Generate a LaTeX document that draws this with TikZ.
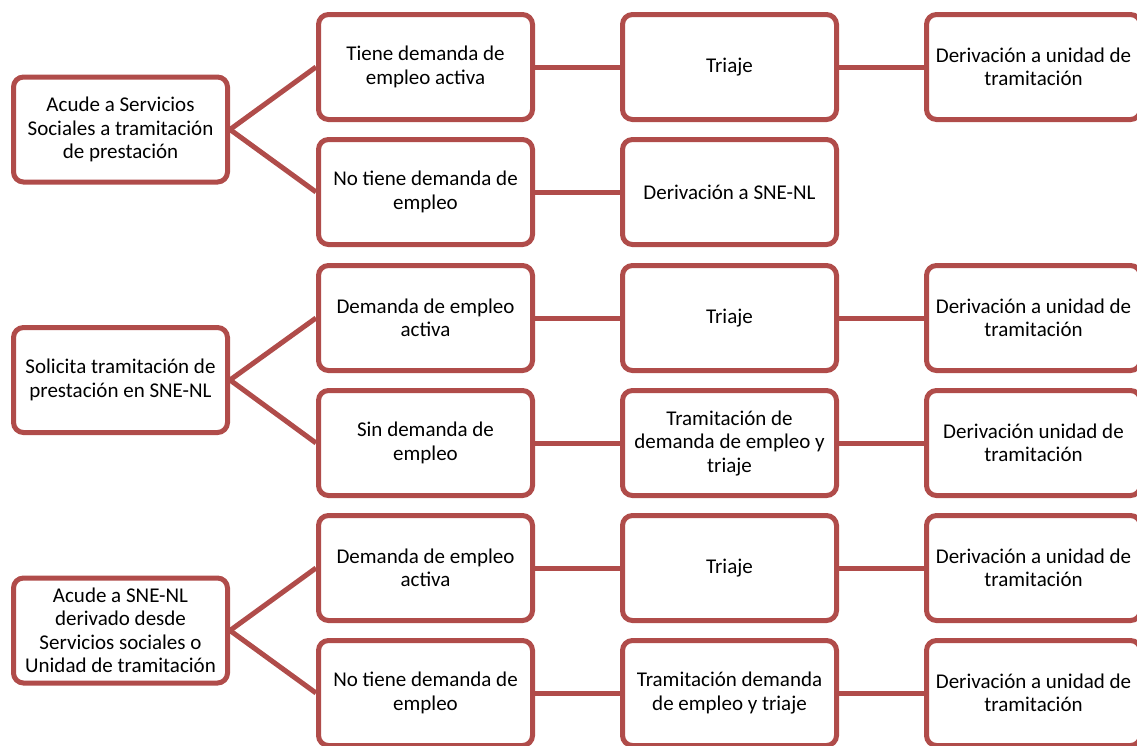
\documentclass[tikz,border=0pt]{standalone}
\usepackage{fontspec}
\setmainfont{Carlito}
\definecolor{boxred}{RGB}{176,76,74}

\begin{document}
\begin{tikzpicture}[
    x=1pt, y=-1pt,
    box/.style={draw=boxred, line width=5pt, rounded corners=10pt, fill=white,
        minimum width=214pt, minimum height=105pt, align=center, inner sep=2pt,
        font=\fontsize{21}{23.5}\selectfont},
    link/.style={draw=boxred, line width=5pt}
]
    \clip (0,0) rectangle (1137,745);
    \useasboundingbox (0,0) rectangle (1137,745);

    % Origins
    \node[box] (acude) at (120.5,129.5) {Acude a Servicios\\Sociales a tramitación\\de prestación};
    \node[box] (solicita) at (120.5,380) {Solicita tramitación de\\prestación en SNE-NL};
    \node[box] (derivado) at (120.5,630.5) {Acude a SNE-NL\\derivado desde\\Servicios sociales o\\Unidad de tramitación};

    % Demand situation
    \node[box] (tieneA) at (425.5,67) {Tiene demanda de\\empleo activa};
    \node[box] (notieneA) at (425.5,192) {No tiene demanda de\\empleo};
    \node[box] (activaB) at (425.5,318) {Demanda de empleo\\activa};
    \node[box] (sinB) at (425.5,443) {Sin demanda de\\empleo};
    \node[box] (activaC) at (425.5,568) {Demanda de empleo\\activa};
    \node[box] (notieneC) at (425.5,693) {No tiene demanda de\\empleo};

    % Actions
    \node[box] (triajeA) at (729.5,67) {Triaje};
    \node[box] (sneA) at (729.5,192) {Derivación a SNE-NL};
    \node[box] (triajeB) at (729.5,318) {Triaje};
    \node[box] (tramB) at (729.5,443) {Tramitación de\\demanda de empleo y\\triaje};
    \node[box] (triajeC) at (729.5,568) {Triaje};
    \node[box] (tramC) at (729.5,693) {Tramitación demanda\\de empleo y triaje};

    % Referrals
    \node[box] (unidadA) at (1033.5,67) {Derivación a unidad de\\tramitación};
    \node[box] (unidadB) at (1033.5,318) {Derivación a unidad de\\tramitación};
    \node[box] (unidadB2) at (1033.5,443) {Derivación unidad de\\tramitación};
    \node[box] (unidadC) at (1033.5,568) {Derivación a unidad de\\tramitación};
    \node[box] (unidadC2) at (1033.5,693) {Derivación a unidad de\\tramitación};

    % Branches
    \draw[link] (acude.east) -- (tieneA.west);
    \draw[link] (acude.east) -- (notieneA.west);
    \draw[link] (solicita.east) -- (activaB.west);
    \draw[link] (solicita.east) -- (sinB.west);
    \draw[link] (derivado.east) -- (activaC.west);
    \draw[link] (derivado.east) -- (notieneC.west);

    % Chains
    \draw[link] (tieneA) -- (triajeA) -- (unidadA);
    \draw[link] (notieneA) -- (sneA);
    \draw[link] (activaB) -- (triajeB) -- (unidadB);
    \draw[link] (sinB) -- (tramB) -- (unidadB2);
    \draw[link] (activaC) -- (triajeC) -- (unidadC);
    \draw[link] (notieneC) -- (tramC) -- (unidadC2);
\end{tikzpicture}
\end{document}
